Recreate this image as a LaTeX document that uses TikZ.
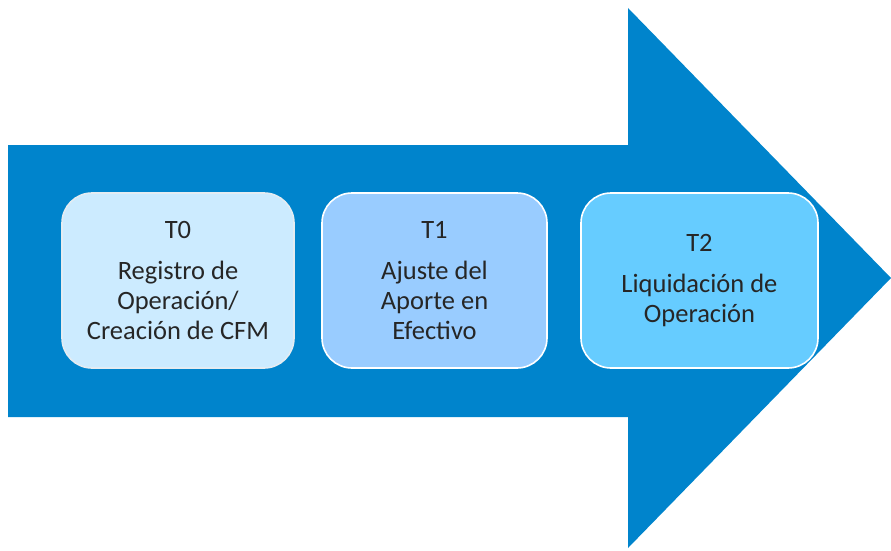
\documentclass[tikz,border=0pt]{standalone}
\usepackage{fontspec}
\setmainfont{Carlito}
\definecolor{flecha}{HTML}{0084CC}
\definecolor{caja0}{HTML}{CCEBFF}
\definecolor{caja1}{HTML}{99CCFF}
\definecolor{caja2}{HTML}{66CCFF}
\definecolor{borde}{HTML}{E4ECF2}
\tikzset{
  etapa/.style={draw=borde, line width=1.6pt, rounded corners=30pt,
    minimum height=175pt, align=center, inner sep=0pt,
    font=\fontsize{26.5}{30}\selectfont, text=black!85}
}
\begin{document}
\begin{tikzpicture}[x=1pt, y=-1pt]
\useasboundingbox (0, 0) rectangle (891, 551);
\fill[flecha] (8, 145) -- (628, 145) -- (628, 8) -- (891, 278) -- (628, 548) -- (628, 417) -- (8, 417) -- cycle;
\node[etapa, fill=caja0, minimum width=232pt] (t0) at (178, 280.5)
  {T0\\[11pt]Registro de\\Operación/\\Creación de CFM};
\node[etapa, fill=caja1, minimum width=225pt, draw=white] (t1) at (434.5, 280.5)
  {T1\\[11pt]Ajuste del\\Aporte en\\Efectivo};
\node[etapa, fill=caja2, minimum width=237pt, draw=white] (t2) at (699.5, 280.5)
  {T2\\[11pt]Liquidación de\\Operación};
\end{tikzpicture}
\end{document}
